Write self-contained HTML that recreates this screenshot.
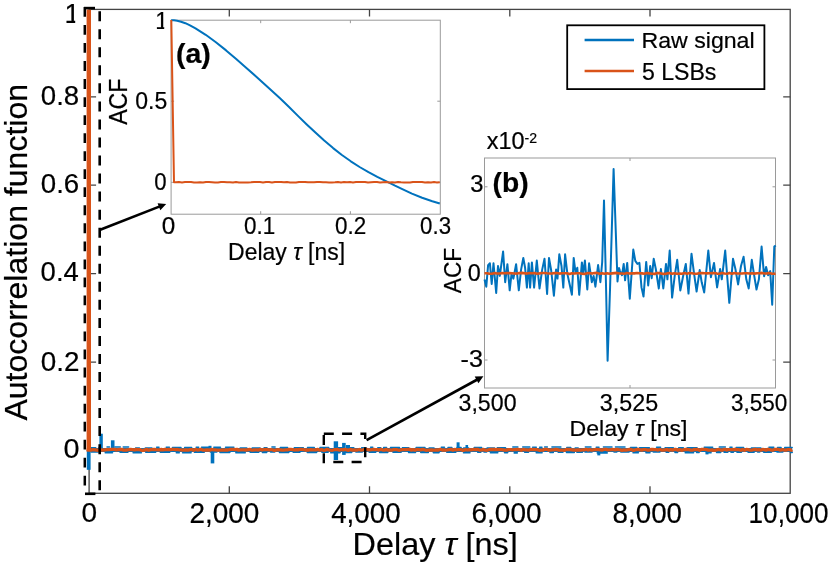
<!DOCTYPE html>
<html lang="en"><head><meta charset="utf-8"><title>Autocorrelation function</title>
<style>html,body{margin:0;padding:0;background:#fff}body{width:832px;height:565px;overflow:hidden}svg{display:block}text{font-family:"Liberation Sans",sans-serif;fill:#000;stroke:#000;stroke-width:0.2px}</style></head><body>
<svg width="832" height="565" viewBox="0 0 832 565">
<rect width="832" height="565" fill="#fff"/>
<g stroke="#444" stroke-width="1.3" fill="none">
<rect x="89.1" y="9.4" width="701.1" height="483.90000000000003"/>
<path d="M229.3 493.3v-7M229.3 9.4v7"/>
<path d="M369.5 493.3v-7M369.5 9.4v7"/>
<path d="M509.8 493.3v-7M509.8 9.4v7"/>
<path d="M650.0 493.3v-7M650.0 9.4v7"/>
<path d="M89.1 96.8h7M790.2 96.8h-7"/>
<path d="M89.1 185.2h7M790.2 185.2h-7"/>
<path d="M89.1 273.6h7M790.2 273.6h-7"/>
<path d="M89.1 362.1h7M790.2 362.1h-7"/>
<path d="M790.2 450.4h-7"/>
</g>
<path d="M89.1 449.9H792.2" stroke="#0072BD" stroke-width="4.0" fill="none"/>
<path d="M91.1 447.7h4.6M99.0 447.4h2.6M107.0 447.0h2.5M114.8 447.1h5.5M123.2 447.1h5.4M135.6 447.9h3.8M145.3 448.0h6.6M156.6 447.3h2.4M166.2 447.3h3.2M172.5 447.6h8.5M184.6 447.5h7.1M196.2 447.2h2.5M201.5 447.3h7.4M213.8 447.3h6.7M225.5 447.2h8.4M240.2 447.9h6.6M252.2 448.0h7.8M264.1 447.8h2.9M271.9 447.0h3.2M280.3 447.6h7.3M294.3 447.7h9.0M307.5 447.5h6.8M320.0 447.5h8.7M336.4 447.7h7.3M346.6 447.8h7.2M361.7 447.7h4.3M370.6 447.2h2.2M377.8 447.8h2.9M383.6 447.4h3.0M390.5 447.4h9.0M402.4 447.8h6.4M416.1 447.4h8.9M429.1 448.0h4.9M441.3 447.2h3.2M448.0 447.6h3.9M457.0 447.4h4.1M463.6 448.0h5.0M474.2 447.6h7.5M487.1 447.9h7.4M497.3 447.8h8.2M512.8 447.1h5.1M522.7 447.1h7.1M532.6 447.3h3.7M539.6 447.2h2.4M544.6 447.0h2.8M551.9 447.1h9.0M566.8 447.4h4.0M575.2 448.0h3.0M585.3 447.1h5.7M596.2 447.3h2.8M603.4 447.0h8.6M615.4 447.1h9.6M630.5 447.5h6.3M639.5 447.7h9.8M656.5 447.2h4.1M665.1 447.8h8.2M678.7 447.8h4.6M687.1 447.8h9.9M704.2 447.2h8.5M719.3 447.0h6.1M729.9 447.3h2.2M736.1 447.4h7.5M751.4 448.0h9.5M768.9 447.2h4.9M777.5 447.6h3.6M784.7 447.5h7.5" stroke="#0072BD" stroke-width="1.5" fill="none" stroke-linecap="round"/>
<path d="M91.1 452.0h7.2M105.2 452.7h7.3M120.0 452.1h8.0M133.1 452.7h8.3M145.8 452.3h9.8M160.2 452.1h9.6M176.3 452.8h3.0M182.6 452.7h8.5M194.4 452.3h9.8M210.4 451.9h6.4M220.0 452.4h9.8M235.8 452.8h9.5M250.2 452.2h8.6M262.4 452.5h4.3M270.6 452.0h4.1M279.5 452.4h9.3M293.2 452.3h6.7M307.3 452.4h9.3M321.9 452.3h6.2M330.7 452.7h3.5M336.7 452.6h3.4M345.2 452.4h6.5M355.9 452.0h6.4M369.2 452.2h6.5M379.6 452.5h8.2M393.0 452.3h8.1M408.6 452.4h6.9M420.8 452.4h7.5M433.3 452.6h5.8M446.8 452.2h9.0M463.5 452.7h6.5M477.7 452.3h3.1M484.0 452.0h2.6M490.4 452.8h7.4M504.5 452.6h3.2M514.2 452.9h3.1M524.7 452.3h3.8M536.2 452.7h5.9M550.0 452.4h3.3M558.2 452.2h4.7M566.5 452.5h7.8M576.9 452.2h5.5M585.0 452.0h7.0M597.3 452.9h9.9M614.0 451.9h2.8M620.8 452.0h8.2M633.0 452.7h5.4M645.9 452.8h4.1M653.3 452.0h6.6M666.2 452.3h2.5M675.0 452.5h2.6M685.2 452.8h8.4M696.6 452.4h2.5M706.4 452.8h4.7M716.6 452.4h4.1M724.0 452.1h3.9M731.0 452.2h2.4M737.0 452.2h4.4M748.1 452.2h6.0M757.6 451.9h2.1M763.6 452.1h7.9M777.0 452.0h5.8M790.5 452.4h1.7" stroke="#0072BD" stroke-width="1.6" fill="none" stroke-linecap="round"/>
<rect x="86.8" y="450.0" width="3.8" height="19.8" fill="#0072BD"/>
<rect x="99.4" y="433.7" width="3.4" height="16.3" fill="#0072BD"/>
<rect x="110.9" y="440.3" width="3.6" height="9.7" fill="#0072BD"/>
<rect x="210.7" y="450.0" width="3.6" height="13.4" fill="#0072BD"/>
<rect x="333.7" y="441.3" width="4.4" height="18.7" fill="#0072BD"/>
<rect x="342.1" y="442.9" width="3.6" height="12.0" fill="#0072BD"/>
<rect x="346.0" y="445.0" width="4" height="7.5" fill="#0072BD"/>
<rect x="456.6" y="442.3" width="3" height="7.7" fill="#0072BD"/>
<rect x="465.5" y="445.0" width="2.6" height="5.0" fill="#0072BD"/>
<rect x="597.3" y="450.0" width="3" height="5.4" fill="#0072BD"/>
<rect x="705.5" y="450.0" width="3" height="4.4" fill="#0072BD"/>
<rect x="208.5" y="445.8" width="3" height="4.2" fill="#0072BD"/>
<path d="M88.8 9.5V451.3" stroke="#D95319" stroke-width="4.4" fill="none"/>
<path d="M86.6 449.8 L91.1 450.1 L92.9 449.7 L94.7 449.8 L96.5 450.0 L98.3 450.3 L100.1 449.6 L101.9 450.1 L103.7 450.0 L105.5 449.9 L107.3 449.7 L109.1 449.6 L110.9 449.4 L112.7 449.4 L114.5 449.4 L116.3 450.0 L118.1 449.6 L119.9 449.5 L121.7 449.4 L123.5 450.1 L125.3 450.2 L127.1 450.0 L128.9 449.6 L130.7 449.5 L132.5 449.6 L134.3 449.8 L136.1 449.5 L137.9 449.7 L139.7 449.6 L141.5 450.3 L143.3 450.3 L145.1 449.8 L146.9 449.5 L148.7 450.3 L150.5 449.6 L152.3 449.7 L154.1 449.3 L155.9 449.7 L157.7 449.8 L159.5 449.8 L161.3 449.5 L163.1 449.8 L164.9 449.3 L166.7 449.6 L168.5 449.4 L170.3 449.7 L172.1 449.3 L173.9 449.3 L175.7 449.6 L177.5 449.5 L179.3 449.9 L181.1 449.8 L182.9 450.1 L184.7 450.0 L186.5 450.0 L188.3 450.2 L190.1 449.7 L191.9 449.6 L193.7 450.3 L195.5 449.4 L197.3 450.0 L199.1 449.9 L200.9 449.3 L202.7 450.1 L204.5 450.2 L206.3 449.9 L208.1 450.0 L209.9 450.1 L211.7 449.4 L213.5 449.8 L215.3 449.8 L217.1 450.1 L218.9 450.1 L220.7 450.1 L222.5 449.9 L224.3 450.2 L226.1 450.0 L227.9 450.0 L229.7 449.5 L231.5 449.3 L233.3 449.4 L235.1 449.7 L236.9 449.4 L238.7 450.1 L240.5 449.9 L242.3 449.9 L244.1 449.9 L245.9 450.0 L247.7 449.8 L249.5 449.3 L251.3 450.1 L253.1 450.0 L254.9 449.8 L256.7 449.8 L258.5 450.0 L260.3 449.4 L262.1 450.0 L263.9 449.6 L265.7 449.4 L267.5 449.6 L269.3 450.0 L271.1 449.5 L272.9 450.0 L274.7 450.3 L276.5 449.8 L278.3 449.7 L280.1 449.8 L281.9 450.0 L283.7 450.1 L285.5 449.9 L287.3 449.9 L289.1 449.4 L290.9 449.4 L292.7 449.6 L294.5 450.0 L296.3 449.6 L298.1 449.9 L299.9 449.3 L301.7 449.4 L303.5 449.6 L305.3 450.0 L307.1 450.0 L308.9 450.0 L310.7 449.6 L312.5 449.8 L314.3 449.8 L316.1 449.8 L317.9 449.4 L319.7 450.2 L321.5 449.5 L323.3 450.3 L325.1 450.2 L326.9 449.3 L328.7 449.8 L330.5 450.1 L332.3 450.3 L334.1 449.7 L335.9 449.6 L337.7 449.5 L339.5 450.2 L341.3 449.5 L343.1 449.9 L344.9 449.4 L346.7 449.8 L348.5 450.3 L350.3 449.4 L352.1 450.1 L353.9 449.8 L355.7 450.2 L357.5 450.0 L359.3 449.5 L361.1 450.2 L362.9 449.8 L364.7 449.3 L366.5 449.3 L368.3 449.8 L370.1 449.8 L371.9 449.6 L373.7 449.4 L375.5 449.6 L377.3 449.6 L379.1 450.1 L380.9 449.3 L382.7 450.1 L384.5 450.1 L386.3 449.4 L388.1 450.2 L389.9 450.0 L391.7 450.2 L393.5 449.6 L395.3 449.7 L397.1 449.7 L398.9 450.3 L400.7 449.9 L402.5 449.7 L404.3 449.7 L406.1 449.6 L407.9 449.3 L409.7 449.4 L411.5 450.1 L413.3 449.6 L415.1 450.2 L416.9 449.5 L418.7 449.6 L420.5 449.8 L422.3 449.5 L424.1 449.7 L425.9 450.3 L427.7 450.2 L429.5 450.1 L431.3 449.9 L433.1 450.2 L434.9 450.2 L436.7 449.8 L438.5 450.0 L440.3 449.3 L442.1 450.0 L443.9 449.8 L445.7 450.1 L447.5 449.9 L449.3 449.6 L451.1 449.3 L452.9 450.2 L454.7 449.4 L456.5 449.8 L458.3 449.6 L460.1 449.6 L461.9 450.0 L463.7 450.3 L465.5 449.6 L467.3 450.0 L469.1 449.6 L470.9 449.9 L472.7 449.7 L474.5 449.5 L476.3 449.5 L478.1 449.5 L479.9 450.2 L481.7 449.8 L483.5 449.5 L485.3 450.2 L487.1 450.3 L488.9 449.7 L490.7 449.4 L492.5 449.5 L494.3 449.4 L496.1 449.6 L497.9 449.4 L499.7 449.5 L501.5 449.6 L503.3 449.9 L505.1 450.2 L506.9 450.0 L508.7 449.7 L510.5 449.7 L512.3 449.8 L514.1 449.7 L515.9 449.6 L517.7 449.4 L519.5 449.6 L521.3 450.3 L523.1 449.4 L524.9 449.8 L526.7 449.9 L528.5 450.2 L530.3 449.5 L532.1 449.6 L533.9 449.5 L535.7 449.7 L537.5 449.7 L539.3 450.3 L541.1 450.1 L542.9 450.2 L544.7 449.3 L546.5 449.3 L548.3 450.0 L550.1 450.2 L551.9 449.8 L553.7 449.9 L555.5 449.3 L557.3 449.7 L559.1 450.2 L560.9 450.1 L562.7 450.2 L564.5 450.3 L566.3 449.5 L568.1 449.4 L569.9 449.5 L571.7 449.8 L573.5 450.0 L575.3 450.2 L577.1 450.0 L578.9 449.9 L580.7 450.1 L582.5 449.8 L584.3 449.9 L586.1 449.3 L587.9 450.1 L589.7 449.5 L591.5 450.2 L593.3 449.9 L595.1 449.6 L596.9 449.4 L598.7 449.6 L600.5 449.9 L602.3 450.0 L604.1 449.4 L605.9 449.4 L607.7 449.8 L609.5 449.9 L611.3 449.7 L613.1 449.5 L614.9 449.9 L616.7 449.3 L618.5 449.6 L620.3 449.8 L622.1 450.3 L623.9 449.9 L625.7 450.2 L627.5 449.8 L629.3 449.5 L631.1 449.5 L632.9 450.3 L634.7 450.0 L636.5 449.6 L638.3 449.3 L640.1 449.8 L641.9 450.0 L643.7 449.7 L645.5 449.6 L647.3 450.0 L649.1 450.2 L650.9 449.5 L652.7 449.3 L654.5 449.6 L656.3 449.7 L658.1 450.0 L659.9 449.5 L661.7 450.1 L663.5 450.0 L665.3 449.8 L667.1 449.5 L668.9 450.3 L670.7 449.6 L672.5 450.1 L674.3 449.5 L676.1 449.5 L677.9 450.1 L679.7 449.6 L681.5 450.3 L683.3 449.8 L685.1 449.5 L686.9 449.5 L688.7 449.7 L690.5 450.0 L692.3 450.2 L694.1 449.4 L695.9 449.7 L697.7 449.5 L699.5 450.3 L701.3 449.4 L703.1 449.4 L704.9 449.4 L706.7 449.7 L708.5 450.2 L710.3 450.2 L712.1 450.0 L713.9 450.3 L715.7 450.2 L717.5 449.6 L719.3 449.5 L721.1 450.2 L722.9 450.0 L724.7 449.3 L726.5 450.0 L728.3 449.7 L730.1 449.7 L731.9 449.6 L733.7 449.5 L735.5 449.3 L737.3 449.6 L739.1 449.7 L740.9 450.3 L742.7 449.4 L744.5 450.3 L746.3 449.5 L748.1 449.7 L749.9 450.1 L751.7 450.1 L753.5 449.7 L755.3 449.3 L757.1 449.8 L758.9 449.7 L760.7 450.2 L762.5 449.5 L764.3 449.7 L766.1 450.2 L767.9 449.3 L769.7 449.7 L771.5 450.1 L773.3 450.1 L775.1 449.3 L776.9 449.3 L778.7 449.4 L780.5 450.2 L782.3 449.6 L784.1 450.0 L785.9 450.2 L787.7 449.6 L789.5 449.6 L791.3 450.3 L792.4 449.8" stroke="#D95319" stroke-width="3.3" fill="none" stroke-linejoin="round"/>
<g stroke="#000" fill="none">
<path d="M84 8.1H95" stroke-width="2.6"/>
<path d="M85 493.8H95.4" stroke-width="2.6"/>
<path d="M84.8 7V486" stroke-width="2.5" stroke-dasharray="9.8 8.23"/>
<path d="M99.7 11.2V491" stroke-width="2.6" stroke-dasharray="10 8.04"/>
</g>
<rect x="323.8" y="433.8" width="41.4" height="28.2" stroke="#000" stroke-width="2.4" fill="none" stroke-dasharray="10 8.3"/>
<path d="M100.2 229.8L159.9 206.4" stroke="#000" stroke-width="2.6" fill="none"/>
<path d="M166.2 203.9L160.3 210.3L157.6 203.2Z" fill="#000"/>
<path d="M366.6 440.2L477.4 379.5" stroke="#000" stroke-width="2.6" fill="none"/>
<path d="M483.4 376.2L478.4 383.3L474.7 376.6Z" fill="#000"/>
<rect x="171.1" y="20.2" width="269.20000000000005" height="194.0" fill="#fff" stroke="#9a9a9a" stroke-width="1"/>
<g stroke="#9a9a9a" stroke-width="1" fill="none">
<path d="M260.7 214.2v-3M260.7 20.2v3"/>
<path d="M350.4 214.2v-3M350.4 20.2v3"/>
<path d="M171.1 101.2h3M440.3 101.2h-3"/>
<path d="M171.1 182.3h3M440.3 182.3h-3"/>
</g>
<path d="M171.1 20.2 L174 20.35 L177.2 20.8 L181 21.7 L185.4 23.2 L190 25.4 L195.5 28.3 L205.7 34.8 L215.9 42.2 L226.1 50.4 L236.2 59 L246.4 67.9 L256.6 77 L266.8 86.3 L280 98.2 L288.8 106.8 L297.7 115.6 L306.5 124.2 L315.4 132.6 L324.2 140.6 L333.1 148.1 L341.9 155 L350.8 161.3 L359.6 167 L368.5 172.1 L377.3 176.8 L388.5 182.4 L395 185.7 L401.8 188.9 L411.9 193.6 L422.1 197.7 L432.3 201.2 L439.8 203.5" stroke="#0072BD" stroke-width="2" fill="none" stroke-linejoin="round"/>
<path d="M171.3 20.0 L174.0 182.2 L176.0 182.3 L179.0 182.0 L182.0 182.4 L185.0 182.1 L188.0 182.0 L191.0 181.9 L194.0 182.4 L197.0 182.5 L200.0 182.3 L203.0 182.5 L206.0 181.9 L209.0 182.0 L212.0 182.2 L215.0 182.5 L218.0 182.5 L221.0 182.1 L224.0 182.0 L227.0 182.2 L230.0 182.2 L233.0 182.5 L236.0 182.0 L239.0 182.4 L242.0 182.4 L245.0 182.4 L248.0 182.4 L251.0 182.3 L254.0 182.1 L257.0 182.1 L260.0 182.1 L263.0 182.4 L266.0 181.9 L269.0 182.0 L272.0 182.4 L275.0 182.0 L278.0 181.9 L281.0 181.9 L284.0 182.2 L287.0 182.1 L290.0 182.5 L293.0 182.5 L296.0 182.5 L299.0 182.0 L302.0 181.9 L305.0 181.9 L308.0 182.2 L311.0 182.3 L314.0 182.2 L317.0 182.0 L320.0 182.1 L323.0 182.3 L326.0 182.3 L329.0 182.4 L332.0 182.4 L335.0 182.3 L338.0 181.9 L341.0 182.4 L344.0 182.1 L347.0 182.2 L350.0 182.1 L353.0 182.4 L356.0 182.0 L359.0 182.0 L362.0 182.0 L365.0 182.0 L368.0 182.5 L371.0 182.3 L374.0 182.1 L377.0 182.1 L380.0 182.5 L383.0 182.2 L386.0 182.0 L389.0 182.4 L392.0 182.3 L395.0 182.5 L398.0 181.9 L401.0 182.2 L404.0 182.4 L407.0 182.4 L410.0 182.5 L413.0 181.9 L416.0 182.1 L419.0 181.9 L422.0 182.0 L425.0 182.5 L428.0 182.3 L431.0 182.5 L434.0 182.1 L437.0 182.5 L439.8 182.2" stroke="#D95319" stroke-width="2" fill="none" stroke-linejoin="round"/>
<rect x="484.5" y="158.0" width="291.0" height="230.0" fill="#fff" stroke="#9a9a9a" stroke-width="1"/>
<g stroke="#9a9a9a" stroke-width="1" fill="none">
<path d="M630 388.0v-3M630 158.0v3"/>
<path d="M484.5 186.8h3M775.5 186.8h-3"/>
<path d="M484.5 273.4h3M775.5 273.4h-3"/>
<path d="M484.5 360h3M775.5 360h-3"/>
</g>
<path d="M484.5 279.5 L486.3 286.7 L488.1 265.1 L489.9 263.3 L491.7 284.0 L493.5 263.3 L496.2 293.0 L498.0 266.0 L499.8 275.9 L503.1 251.5 L505.2 282.2 L507.4 264.2 L509.7 290.3 L511.5 274.1 L513.4 278.6 L516.1 264.2 L518.8 290.3 L521.1 269.6 L523.3 257.9 L525.1 267.8 L526.9 287.6 L528.7 263.3 L530.1 287.6 L531.9 262.4 L534.1 287.6 L536.8 260.6 L539.5 288.5 L542.2 269.6 L544.5 258.8 L547.1 293.9 L549.0 257.9 L551.2 270.5 L553.9 295.7 L556.1 269.6 L557.5 278.6 L559.3 254.3 L561.5 266.0 L563.3 287.6 L565.1 254.3 L567.4 274.1 L569.2 282.2 L571.9 294.8 L573.7 257.9 L575.5 272.3 L577.3 267.8 L579.2 294.8 L581.9 262.4 L583.1 274.1 L584.9 260.6 L587.3 289.4 L589.1 263.3 L591.8 282.2 L593.6 275.9 L595.4 286.7 L598.1 265.1 L600.4 282.2 L602.2 262.0 L604.0 200.5 L606.0 285.0 L607.6 360.8 L610.0 290.0 L613.6 169.0 L617.5 281.5 L619.0 268.0 L620.0 271.1 L622.0 275.2 L623.7 263.9 L625.1 280.3 L627.2 262.9 L629.8 298.7 L633.3 249.6 L635.3 260.9 L637.4 263.9 L639.4 262.9 L641.5 287.4 L643.5 296.6 L646.2 261.9 L648.2 285.4 L650.2 266.0 L651.7 278.2 L653.7 258.8 L655.8 269.0 L658.8 288.5 L660.9 269.0 L663.3 288.5 L666.0 263.9 L667.4 279.3 L669.7 250.6 L672.1 297.6 L674.8 275.2 L677.2 259.8 L680.3 290.5 L683.3 275.2 L685.8 263.9 L688.5 293.6 L691.5 253.7 L694.0 273.1 L696.6 291.5 L699.7 270.1 L701.7 282.3 L704.2 292.5 L708.3 250.6 L710.9 277.2 L714.0 262.9 L717.1 287.4 L720.1 269.0 L721.8 279.3 L725.2 250.6 L729.3 302.8 L733.0 258.8 L735.4 269.0 L738.1 284.4 L741.0 266.0 L743.6 256.8 L746.3 279.3 L748.7 288.5 L751.8 259.8 L753.8 273.1 L756.5 289.5 L758.9 279.3 L761.6 246.6 L764.1 276.2 L766.1 267.0 L768.1 275.2 L770.2 271.1 L772.2 304.8 L774.3 246.6 L775.7 245.5" stroke="#0072BD" stroke-width="2" fill="none" stroke-linejoin="round"/>
<path d="M484.5 273.3 L487.0 273.2 L489.5 273.7 L492.0 273.8 L494.5 273.0 L497.0 273.5 L499.5 273.5 L502.0 273.1 L504.5 273.3 L507.0 273.0 L509.5 273.1 L512.0 273.2 L514.5 273.5 L517.0 273.6 L519.5 273.1 L522.0 272.9 L524.5 273.2 L527.0 273.6 L529.5 273.1 L532.0 273.2 L534.5 273.1 L537.0 273.7 L539.5 273.4 L542.0 273.0 L544.5 273.0 L547.0 273.3 L549.5 273.5 L552.0 273.5 L554.5 273.0 L557.0 273.1 L559.5 273.6 L562.0 273.3 L564.5 273.2 L567.0 273.2 L569.5 273.9 L572.0 273.2 L574.5 273.5 L577.0 273.3 L579.5 273.3 L582.0 273.8 L584.5 273.9 L587.0 273.3 L589.5 273.1 L592.0 273.6 L594.5 273.1 L597.0 272.9 L599.5 273.8 L602.0 273.3 L604.5 273.7 L607.0 273.3 L609.5 273.8 L612.0 273.4 L614.5 273.1 L617.0 272.9 L619.5 273.5 L622.0 273.5 L624.5 273.8 L627.0 273.0 L629.5 273.5 L632.0 273.3 L634.5 273.4 L637.0 273.0 L639.5 273.2 L642.0 273.4 L644.5 273.8 L647.0 273.0 L649.5 273.4 L652.0 273.7 L654.5 273.9 L657.0 273.1 L659.5 273.0 L662.0 273.8 L664.5 273.9 L667.0 273.4 L669.5 273.0 L672.0 273.8 L674.5 273.3 L677.0 273.8 L679.5 273.5 L682.0 273.7 L684.5 273.1 L687.0 273.7 L689.5 273.1 L692.0 273.3 L694.5 273.7 L697.0 273.7 L699.5 273.1 L702.0 273.1 L704.5 273.3 L707.0 273.4 L709.5 273.3 L712.0 273.0 L714.5 273.1 L717.0 273.6 L719.5 273.8 L722.0 272.9 L724.5 273.5 L727.0 273.7 L729.5 272.9 L732.0 273.7 L734.5 273.0 L737.0 273.5 L739.5 273.5 L742.0 273.5 L744.5 273.2 L747.0 273.3 L749.5 273.5 L752.0 273.3 L754.5 273.6 L757.0 273.3 L759.5 273.3 L762.0 272.9 L764.5 273.5 L767.0 273.4 L769.5 273.1 L772.0 273.7 L774.5 273.7 L775.5 273.4" stroke="#D95319" stroke-width="2.6" fill="none" stroke-linejoin="round"/>
<rect x="567.2" y="25.3" width="197.2" height="63.8" fill="#fff" stroke="#000" stroke-width="1.8"/>
<path d="M584.6 40H634" stroke="#0072BD" stroke-width="2.7"/>
<path d="M584.6 71H634" stroke="#D95319" stroke-width="2.7"/>
<text transform="translate(27.38 420.60) rotate(-90) scale(1.002 1.002)" font-size="32">Autocorrelation function</text>
<text transform="translate(352.62 555.03) scale(1.013 0.958)" font-size="32">Delay <tspan font-style="italic">τ</tspan> [ns]</text>
<clipPath id="cy1"><rect x="66.0" y="-0.1" width="9.2" height="26.2"/></clipPath>
<g clip-path="url(#cy1)"><text transform="translate(64.44 22.85) scale(1.024 1.050)" font-size="27">1</text></g>
<text transform="translate(40.75 105.43) scale(1.024 1.050)" font-size="27">0.8</text>
<text transform="translate(40.77 192.75) scale(1.025 1.053)" font-size="27">0.6</text>
<text transform="translate(40.62 281.42) scale(1.017 1.050)" font-size="27">0.4</text>
<text transform="translate(40.75 370.58) scale(1.031 1.055)" font-size="27">0.2</text>
<text transform="translate(63.42 457.57) scale(1.066 1.050)" font-size="27">0</text>
<text transform="translate(81.50 522.42) scale(1.038 1.029)" font-size="27">0</text>
<text transform="translate(189.47 523.00) scale(1.035 1.063)" font-size="27">2,000</text>
<text transform="translate(331.13 523.00) scale(1.029 1.063)" font-size="27">4,000</text>
<text transform="translate(471.53 523.00) scale(1.037 1.063)" font-size="27">6,000</text>
<text transform="translate(612.62 523.00) scale(1.028 1.063)" font-size="27">8,000</text>
<text transform="translate(748.60 523.00) scale(0.967 1.063)" font-size="27">10,000</text>
<text transform="translate(641.50 47.85) scale(1.024 1.002)" font-size="22.6">Raw signal</text>
<text transform="translate(641.88 79.75) scale(1.023 1.062)" font-size="22.6">5 LSBs</text>
<clipPath id="ca1"><rect x="155.8" y="8.8" width="8.4" height="23.0"/></clipPath>
<g clip-path="url(#ca1)"><text transform="translate(155.20 28.70) scale(1.019 1.094)" font-size="22.6">1</text></g>
<text transform="translate(135.32 108.90) scale(1.019 1.094)" font-size="22.6">0.5</text>
<text transform="translate(154.32 189.85) scale(0.982 1.038)" font-size="22.6">0</text>
<text transform="translate(161.67 234.25) scale(1.075 1.038)" font-size="22.6">0</text>
<text transform="translate(243.95 234.25) scale(0.993 1.038)" font-size="22.6">0.1</text>
<text transform="translate(335.00 234.25) scale(0.993 1.038)" font-size="22.6">0.2</text>
<text transform="translate(420.12 234.25) scale(0.985 1.038)" font-size="22.6">0.3</text>
<text transform="translate(228.10 260.45) scale(0.998 1.026)" font-size="23">Delay <tspan font-style="italic">τ</tspan> [ns]</text>
<text transform="translate(127.47 124.85) rotate(-90) scale(1.009 1.083)" font-size="23">ACF</text>
<text transform="translate(175.95 62.93) scale(1.116 1.048)" font-size="25.5" font-weight="bold">(a)</text>
<text transform="translate(470.20 191.95) scale(1.051 1.062)" font-size="22.6">3</text>
<text transform="translate(467.68 280.60) scale(1.033 1.031)" font-size="22.6">0</text>
<text transform="translate(460.57 367.38) scale(1.114 1.034)" font-size="22.6">-3</text>
<text transform="translate(458.55 411.40) scale(1.026 1.062)" font-size="22.6">3,500</text>
<text transform="translate(599.83 411.40) scale(1.033 1.062)" font-size="22.6">3,525</text>
<text transform="translate(731.00 411.40) scale(0.996 1.062)" font-size="22.6">3,550</text>
<text transform="translate(569.47 436.12) scale(1.007 0.995)" font-size="23">Delay <tspan font-style="italic">τ</tspan> [ns]</text>
<text transform="translate(461.20 293.23) rotate(-90) scale(0.987 1.055)" font-size="23">ACF</text>
<text transform="translate(492.55 192.12) scale(1.087 1.046)" font-size="26" font-weight="bold">(b)</text>
<text transform="translate(486.73 148.95) scale(1.040 1.031)" font-size="22.6">x10<tspan font-size="0.6em" dy="-0.41em">-2</tspan></text>
</svg></body></html>
